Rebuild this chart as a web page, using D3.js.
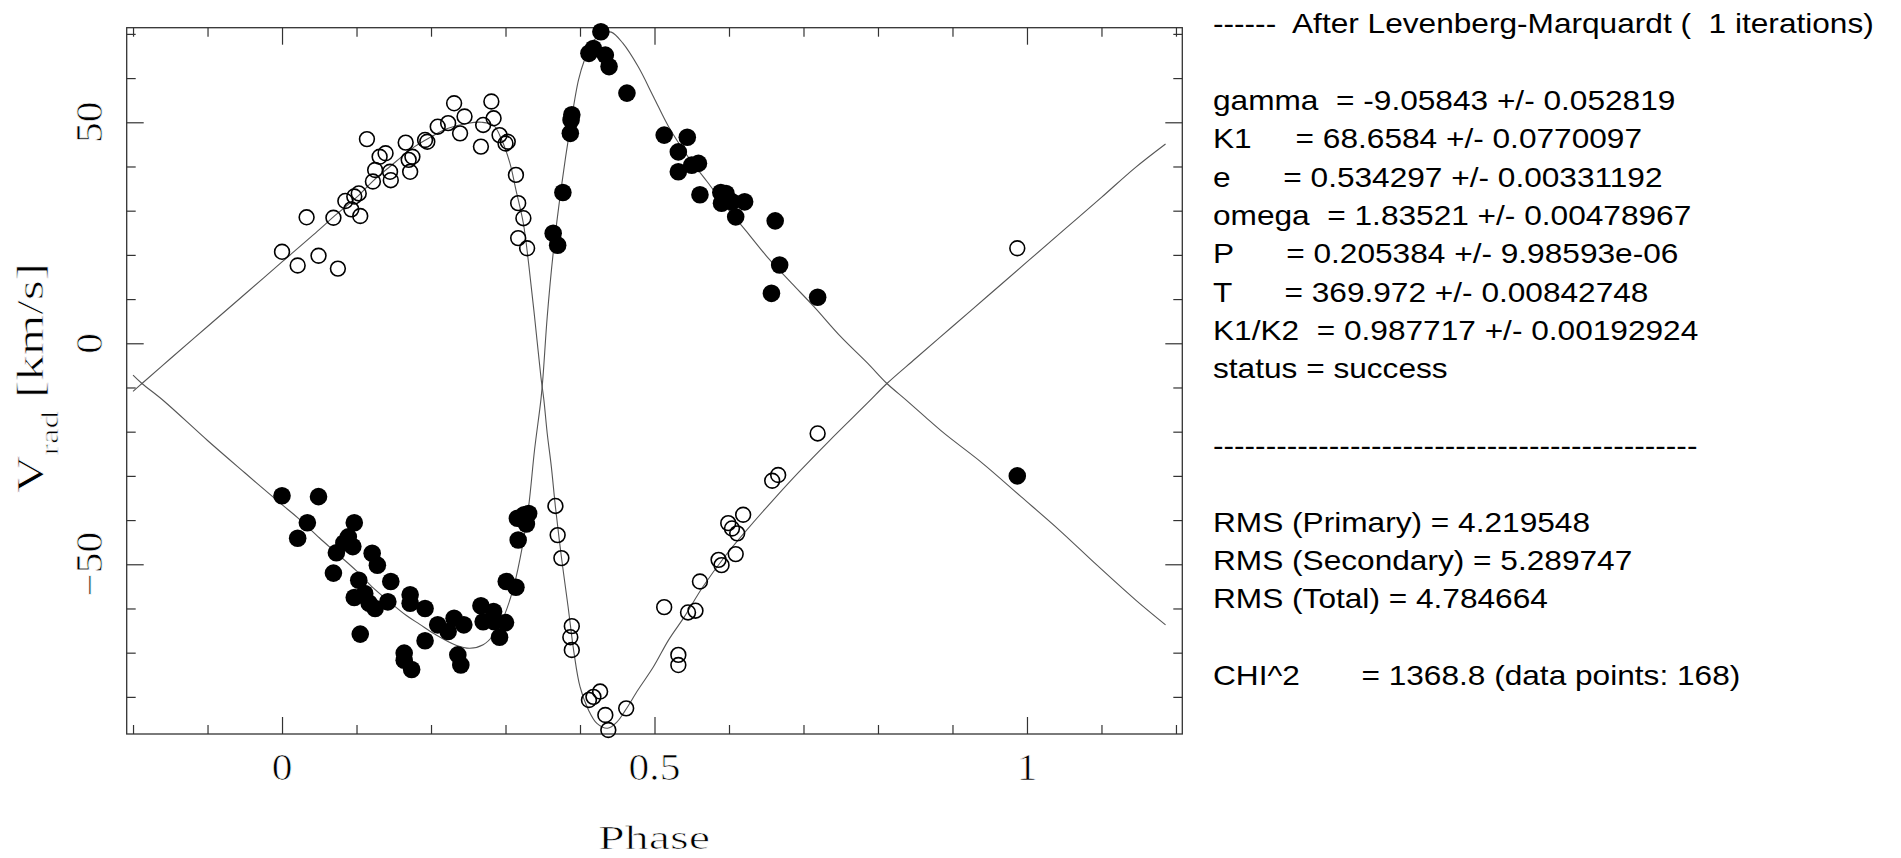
<!DOCTYPE html>
<html>
<head>
<meta charset="utf-8">
<script src="https://cdn.jsdelivr.net/npm/d3@7"></script>
<style>
  html, body { margin: 0; padding: 0; background: #fff; overflow: hidden; }
  svg { display: block; }
</style>
</head>
<body>
<svg id="chart" width="1901" height="858"></svg>
<script>
// ---------------- DATA ----------------
// Primary star: filled circles [phase, Vrad km/s]
const primaryPoints = [
  [0.428,70.5],[0.412,65.6],[0.418,66.7],[0.434,65.2],[0.439,62.6],[0.463,56.6],
  [0.389,51.7],[0.388,50.5],[0.387,47.5],[0.377,34.1],[0.364,24.9],[0.370,22.2],
  [0.513,47.1],[0.544,46.6],[0.532,43.3],[0.550,40.3],[0.559,40.7],[0.532,38.8],
  [0.561,33.6],[0.589,34.1],[0.596,33.9],[0.590,31.7],[0.604,32.0],[0.621,32.0],
  [0.609,28.6],[0.662,27.7],[0.668,17.7],[0.657,11.3],[0.719,10.4],
  [0.000,-34.5],[0.049,-34.7],[0.034,-40.6],[0.021,-44.1],[0.097,-40.6],[0.089,-43.8],
  [0.083,-45.2],[0.095,-46.0],[0.073,-47.4],[0.069,-52.0],[0.103,-53.6],[0.121,-47.5],
  [0.128,-50.2],[0.097,-57.5],[0.111,-56.6],[0.117,-58.8],[0.125,-60.0],[0.142,-58.5],
  [0.146,-53.9],[0.105,-65.8],[0.172,-56.9],[0.172,-58.8],[0.192,-60.0],[0.164,-70.1],
  [0.164,-71.7],[0.174,-73.8],[0.192,-67.3],[0.209,-63.7],[0.223,-65.2],[0.231,-62.2],
  [0.244,-63.7],[0.236,-70.5],[0.240,-72.8],[0.267,-59.4],[0.270,-63.0],[0.284,-60.7],
  [0.285,-63.0],[0.292,-66.5],[0.300,-63.2],[0.301,-53.9],[0.314,-55.2],[0.317,-44.5],
  [0.316,-39.6],[0.325,-38.8],[0.328,-40.9],[0.331,-38.5],[0.987,-30.0]
];
// Secondary star: open circles [phase, Vrad km/s]
const secondaryPoints = [
  [0.000,20.7],[0.021,17.6],[0.033,28.5],[0.049,19.8],[0.069,28.4],[0.075,16.9],
  [0.085,32.2],[0.097,33.2],[0.093,30.3],[0.105,28.8],[0.103,33.9],[0.114,46.2],
  [0.122,36.6],[0.125,39.2],[0.131,42.2],[0.139,43.0],[0.145,38.8],[0.146,36.9],
  [0.166,45.4],[0.170,41.5],[0.172,38.8],[0.175,42.2],[0.192,46.0],[0.195,45.6],
  [0.209,49.0],[0.223,49.8],[0.231,54.3],[0.239,47.5],[0.245,51.3],[0.267,44.5],
  [0.270,49.4],[0.281,54.7],[0.284,50.9],[0.292,47.1],[0.300,45.2],[0.303,45.6],
  [0.314,38.1],[0.317,31.7],[0.324,28.3],[0.317,23.8],[0.329,21.5],
  [0.367,-36.8],[0.370,-43.4],[0.375,-48.6],[0.389,-64.0],[0.387,-66.5],[0.389,-69.4],
  [0.412,-80.7],[0.418,-80.0],[0.427,-78.8],[0.434,-84.1],[0.438,-87.5],[0.462,-82.6],
  [0.719,-20.4],[0.658,-31.1],[0.666,-29.8],[0.599,-40.7],[0.604,-41.9],[0.619,-38.8],
  [0.611,-43.0],[0.609,-47.7],[0.586,-49.0],[0.590,-50.2],[0.561,-53.9],[0.545,-60.9],
  [0.555,-60.5],[0.513,-59.7],[0.532,-70.5],[0.532,-72.8],[0.987,21.5]
];
// Fitted orbit curves [phase, Vrad]
const secondaryModel = [
  [-0.200,-10.9],[-0.188,-9.1],[-0.150,-3.5],[-0.100,3.8],[-0.050,11.1],[0.000,18.4],
  [0.050,25.7],[0.069,28.6],[0.100,33.0],[0.122,36.7],[0.145,40.0],[0.178,44.5],
  [0.200,46.7],[0.222,48.6],[0.250,49.8],[0.268,50.0],[0.284,49.3],[0.295,46.0],
  [0.306,40.7],[0.314,34.7],[0.324,27.1],[0.331,18.1],[0.339,6.0],[0.3475,-7.6],
  [0.3515,-12.8],[0.356,-20.4],[0.3615,-27.9],[0.367,-37.0],[0.375,-48.3],[0.384,-59.6],
  [0.392,-70.1],[0.400,-77.7],[0.4115,-83.0],[0.4227,-86.0],[0.437,-87.1],[0.450,-85.6],
  [0.461,-83.0],[0.478,-78.4],[0.4986,-73.2],[0.519,-67.1],[0.540,-61.9],[0.565,-55.1],
  [0.596,-47.9],[0.622,-42.6],[0.658,-35.7],[0.694,-29.1],[0.735,-22.0],[0.786,-13.5],
  [0.812,-9.1],[0.850,-3.5],[0.900,3.8],[0.950,11.1],[1.000,18.4],[1.050,25.7],
  [1.100,33.0],[1.145,39.7],[1.186,45.1]
];
const primaryModel = [
  [-0.200,-7.2],[-0.188,-9.1],[-0.159,-13.0],[-0.100,-22.0],[-0.050,-29.3],[0.000,-36.5],
  [0.022,-39.6],[0.050,-44.0],[0.072,-47.3],[0.100,-51.5],[0.122,-55.3],[0.145,-58.6],
  [0.167,-61.6],[0.185,-63.6],[0.206,-65.9],[0.2335,-68.3],[0.252,-69.0],[0.270,-68.2],
  [0.284,-66.0],[0.2975,-61.9],[0.311,-55.1],[0.3226,-46.0],[0.331,-37.0],[0.339,-24.1],
  [0.3475,-12.8],[0.3503,-7.6],[0.356,6.0],[0.364,20.4],[0.375,35.4],[0.387,49.0],
  [0.398,59.6],[0.406,64.1],[0.417,68.2],[0.431,70.1],[0.442,70.4],[0.4575,67.9],
  [0.478,62.6],[0.4986,55.8],[0.519,49.0],[0.545,42.2],[0.5705,36.6],[0.596,30.9],
  [0.622,25.6],[0.653,19.2],[0.684,13.6],[0.714,8.3],[0.750,1.5],[0.786,-4.5],
  [0.812,-9.1],[0.8375,-12.8],[0.863,-16.6],[0.889,-20.4],[0.940,-27.1],[0.992,-34.7],
  [1.043,-42.2],[1.094,-50.2],[1.146,-58.1],[1.186,-63.7]
];

// Axis ticks and labels
const xMajorTicks = [0, 0.5, 1];
const xMajorLabels = ["0", "0.5", "1"];
const xMinorTicks = [-0.2,-0.1,0.1,0.2,0.3,0.4,0.6,0.7,0.8,0.9,1.1,1.2];
const yMajorTicks = [-50, 0, 50];
const yMajorLabels = ["\u221250", "0", "50"];
const yMinorTicks = [-80,-70,-60,-40,-30,-20,-10,10,20,30,40,60,70];
const xTitle = "Phase";

// Fit report text
const fitHeader = "------  After Levenberg-Marquardt (  1 iterations)";
const fitParams = [
  "gamma  = -9.05843 +/- 0.052819",
  "K1     = 68.6584 +/- 0.0770097",
  "e      = 0.534297 +/- 0.00331192",
  "omega  = 1.83521 +/- 0.00478967",
  "P      = 0.205384 +/- 9.98593e-06",
  "T      = 369.972 +/- 0.00842748",
  "K1/K2  = 0.987717 +/- 0.00192924",
  "status = success"
];
const fitSeparator = "----------------------------------------------";
const fitRms = [
  "RMS (Primary) = 4.219548",
  "RMS (Secondary) = 5.289747",
  "RMS (Total) = 4.784664"
];
const fitChi = "CHI^2       = 1368.8 (data points: 168)";

// ---------------- DRAWING ----------------
const svg = d3.select("#chart");
svg.append("rect").attr("width", 1901).attr("height", 858).attr("fill", "#fff");

const L = 126.7, R = 1182.3, T = 27.7, B = 734;
const x = d3.scaleLinear().domain([-0.2085, 1.2085]).range([L, R]);
const y = d3.scaleLinear().domain([-88.4, 71.4]).range([B, T]);

const axisColor = "#333";
function addAxis(gen, tx, ty, vals, size) {
  const g = svg.append("g").attr("transform", `translate(${tx},${ty})`)
    .call(gen.tickValues(vals).tickSize(-size).tickFormat(""));
  g.select(".domain").remove();
  g.selectAll(".tick line").attr("stroke", axisColor).attr("stroke-width", 1.2);
}
addAxis(d3.axisBottom(x), 0, B, xMajorTicks, 17);
addAxis(d3.axisBottom(x), 0, B, xMinorTicks, 9);
addAxis(d3.axisTop(x), 0, T, xMajorTicks, 17);
addAxis(d3.axisTop(x), 0, T, xMinorTicks, 9);
addAxis(d3.axisLeft(y), L, 0, yMajorTicks, 17);
addAxis(d3.axisLeft(y), L, 0, yMinorTicks, 9);
addAxis(d3.axisRight(y), R, 0, yMajorTicks, 17);
addAxis(d3.axisRight(y), R, 0, yMinorTicks, 9);

svg.append("rect").attr("x", L).attr("y", T).attr("width", R - L).attr("height", B - T)
  .attr("fill", "none").attr("stroke", axisColor).attr("stroke-width", 1.3);

// model curves
const line = d3.line().x(d => x(d[0])).y(d => y(d[1])).curve(d3.curveCatmullRom.alpha(0.5));
[primaryModel, secondaryModel].forEach(m => {
  svg.append("path").attr("d", line(m)).attr("fill", "none")
    .attr("stroke", "#555").attr("stroke-width", 1.1);
});

// points
svg.append("g").selectAll("circle").data(primaryPoints).join("circle")
  .attr("cx", d => x(d[0])).attr("cy", d => y(d[1])).attr("r", 8.8).attr("fill", "#000");
svg.append("g").selectAll("circle").data(secondaryPoints).join("circle")
  .attr("cx", d => x(d[0])).attr("cy", d => y(d[1])).attr("r", 7.4)
  .attr("fill", "none").attr("stroke", "#000").attr("stroke-width", 1.6);

// tick labels (thin serif, PGPLOT-like)
const serif = "'Liberation Serif', 'DejaVu Serif', serif";
function thin(sel) {
  return sel.attr("font-family", serif).attr("fill", "#000")
    .attr("stroke", "#fff").attr("stroke-width", 0.7);
}
xMajorTicks.forEach((v, i) => {
  thin(svg.append("text").attr("transform", `translate(${x(v)},780) scale(1.12,1)`)
    .attr("text-anchor", "middle").attr("font-size", 37)).text(xMajorLabels[i]);
});
yMajorTicks.forEach((v, i) => {
  thin(svg.append("text").attr("transform", `translate(101.5,${y(v)}) rotate(-90) scale(1.12,1)`)
    .attr("text-anchor", "middle").attr("font-size", 37)).text(yMajorLabels[i]);
});
// axis titles
thin(svg.append("text").attr("x", 654).attr("y", 849).attr("text-anchor", "middle")
  .attr("font-size", 33)
  .attr("textLength", 112).attr("lengthAdjust", "spacingAndGlyphs")).text(xTitle);

const yt = thin(svg.append("text").attr("transform", "translate(43.3,378) rotate(-90)")
  .attr("text-anchor", "middle").attr("font-size", 37)
  .attr("textLength", 230).attr("lengthAdjust", "spacingAndGlyphs"));
yt.append("tspan").text("V");
yt.append("tspan").attr("font-size", 25).attr("dy", 15).text("rad");
yt.append("tspan").attr("dy", -15).text("\u00a0[km/s]");

// fit report text
const sans = "'Liberation Sans', Arial, sans-serif";
const rep = svg.append("g").attr("transform", "translate(1213,0) scale(1.13,1)");
const lineY = i => 33.3 + 38.33 * i;
const rows = [[0, fitHeader]]
  .concat(fitParams.map((t, i) => [2 + i, t]))
  .concat([[11, fitSeparator]])
  .concat(fitRms.map((t, i) => [13 + i, t]))
  .concat([[17, fitChi]]);
rep.selectAll("text").data(rows).join("text")
  .attr("x", 0).attr("y", d => lineY(d[0]))
  .attr("font-family", sans).attr("font-size", 28).attr("fill", "#000")
  .attr("xml:space", "preserve").style("white-space", "pre")
  .text(d => d[1]);
</script>
</body>
</html>
